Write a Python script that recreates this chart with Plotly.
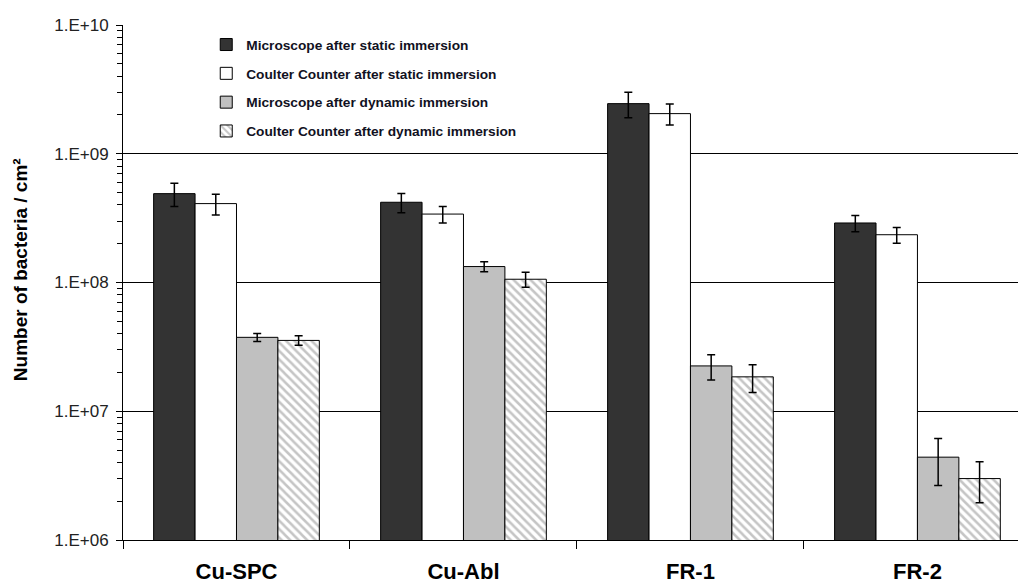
import plotly.graph_objects as go

# Substrates and bacteria counts (per cm²) with error bars
categories = ["Cu-SPC", "Cu-Abl", "FR-1", "FR-2"]

microscope_static = [4.9e8, 4.2e8, 2.45e9, 2.9e8]
microscope_static_err = [1.0e8, 0.72e8, 0.55e9, 0.42e8]

coulter_static = [4.1e8, 3.4e8, 2.05e9, 2.35e8]
coulter_static_err = [0.75e8, 0.5e8, 0.38e9, 0.33e8]

microscope_dynamic = [3.75e7, 1.33e8, 2.25e7, 4.4e6]
microscope_dynamic_err = [2.7e6, 1.2e7, 5.0e6, 1.75e6]

coulter_dynamic = [3.55e7, 1.06e8, 1.85e7, 3.0e6]
coulter_dynamic_err = [3.0e6, 1.4e7, 4.5e6, 1.05e6]

series_names = [
    "Microscope after static immersion",
    "Coulter Counter after static immersion",
    "Microscope after dynamic immersion",
    "Coulter Counter after dynamic immersion",
]

y_tickvals = [1e6, 1e7, 1e8, 1e9, 1e10]
y_ticktext = ["1.E+06", "1.E+07", "1.E+08", "1.E+09", "1.E+10"]

FONT = "Arial, Liberation Sans, sans-serif"

series = [
    (series_names[0], microscope_static, microscope_static_err,
     dict(color="#333333", line=dict(color="#000000", width=1))),
    (series_names[1], coulter_static, coulter_static_err,
     dict(color="#ffffff", line=dict(color="#000000", width=1))),
    (series_names[2], microscope_dynamic, microscope_dynamic_err,
     dict(color="#c0c0c0", line=dict(color="#000000", width=1))),
    (series_names[3], coulter_dynamic, coulter_dynamic_err,
     dict(color="#ffffff", line=dict(color="#000000", width=1),
          pattern=dict(shape="\\", fgcolor="#8c8c8c", bgcolor="#ffffff",
                       size=6, solidity=0.42))),
]

fig = go.Figure()
for i, (name, vals, errs, marker) in enumerate(series):
    fig.add_trace(go.Bar(
        x=categories, y=vals, name=name, marker=marker,
        legendgroup=f"g{i}",
        error_y=dict(type="data", array=errs, color="#000000",
                     thickness=1.5, width=4),
    ))

# log-axis minor ticks at 2..9 of each decade
minor_vals = [m * 10 ** d for d in range(6, 10) for m in range(2, 10)]

fig.update_layout(
    width=1018, height=584,
    margin=dict(l=123, r=0, t=25, b=44),
    paper_bgcolor="white", plot_bgcolor="white",
    barmode="group", bargap=0.27, bargroupgap=0,
    font=dict(family=FONT, color="#000000"),
    legend=dict(
        x=0.093, y=0.992, xanchor="left", yanchor="top",
        bgcolor="rgba(0,0,0,0)", tracegroupgap=8,
        font=dict(family=FONT, size=13.7, color="#111122", weight="bold"),
        itemwidth=30,
    ),
    xaxis=dict(
        type="category", range=[-0.5, 3.443],
        showline=True, linecolor="#000000", linewidth=1,
        ticks="outside", tickson="boundaries", ticklen=8, tickcolor="#000000",
        tickfont=dict(family=FONT, size=22, color="#000000", weight="bold"),
        ticklabelstandoff=12,
        showgrid=False,
    ),
    yaxis=dict(
        type="log", range=[6, 10],
        tickvals=y_tickvals, ticktext=y_ticktext,
        showline=True, linecolor="#000000", linewidth=1,
        ticks="outside", ticklen=6, tickcolor="#000000",
        tickfont=dict(family=FONT, size=17, color="#222222"),
        ticklabelstandoff=4,
        showgrid=True, gridcolor="#000000", gridwidth=1,
        minor=dict(tickmode="array", tickvals=minor_vals, ticks="outside",
                   ticklen=5, tickcolor="#000000", showgrid=False),
    ),
    annotations=[dict(
        text="Number of bacteria / cm²", textangle=-90,
        xref="paper", yref="paper", x=-103 / 895, y=0.524,
        xanchor="center", yanchor="middle", showarrow=False,
        font=dict(family=FONT, size=19, color="#000000", weight="bold"),
    )],
)

fig.write_html("out.html")
